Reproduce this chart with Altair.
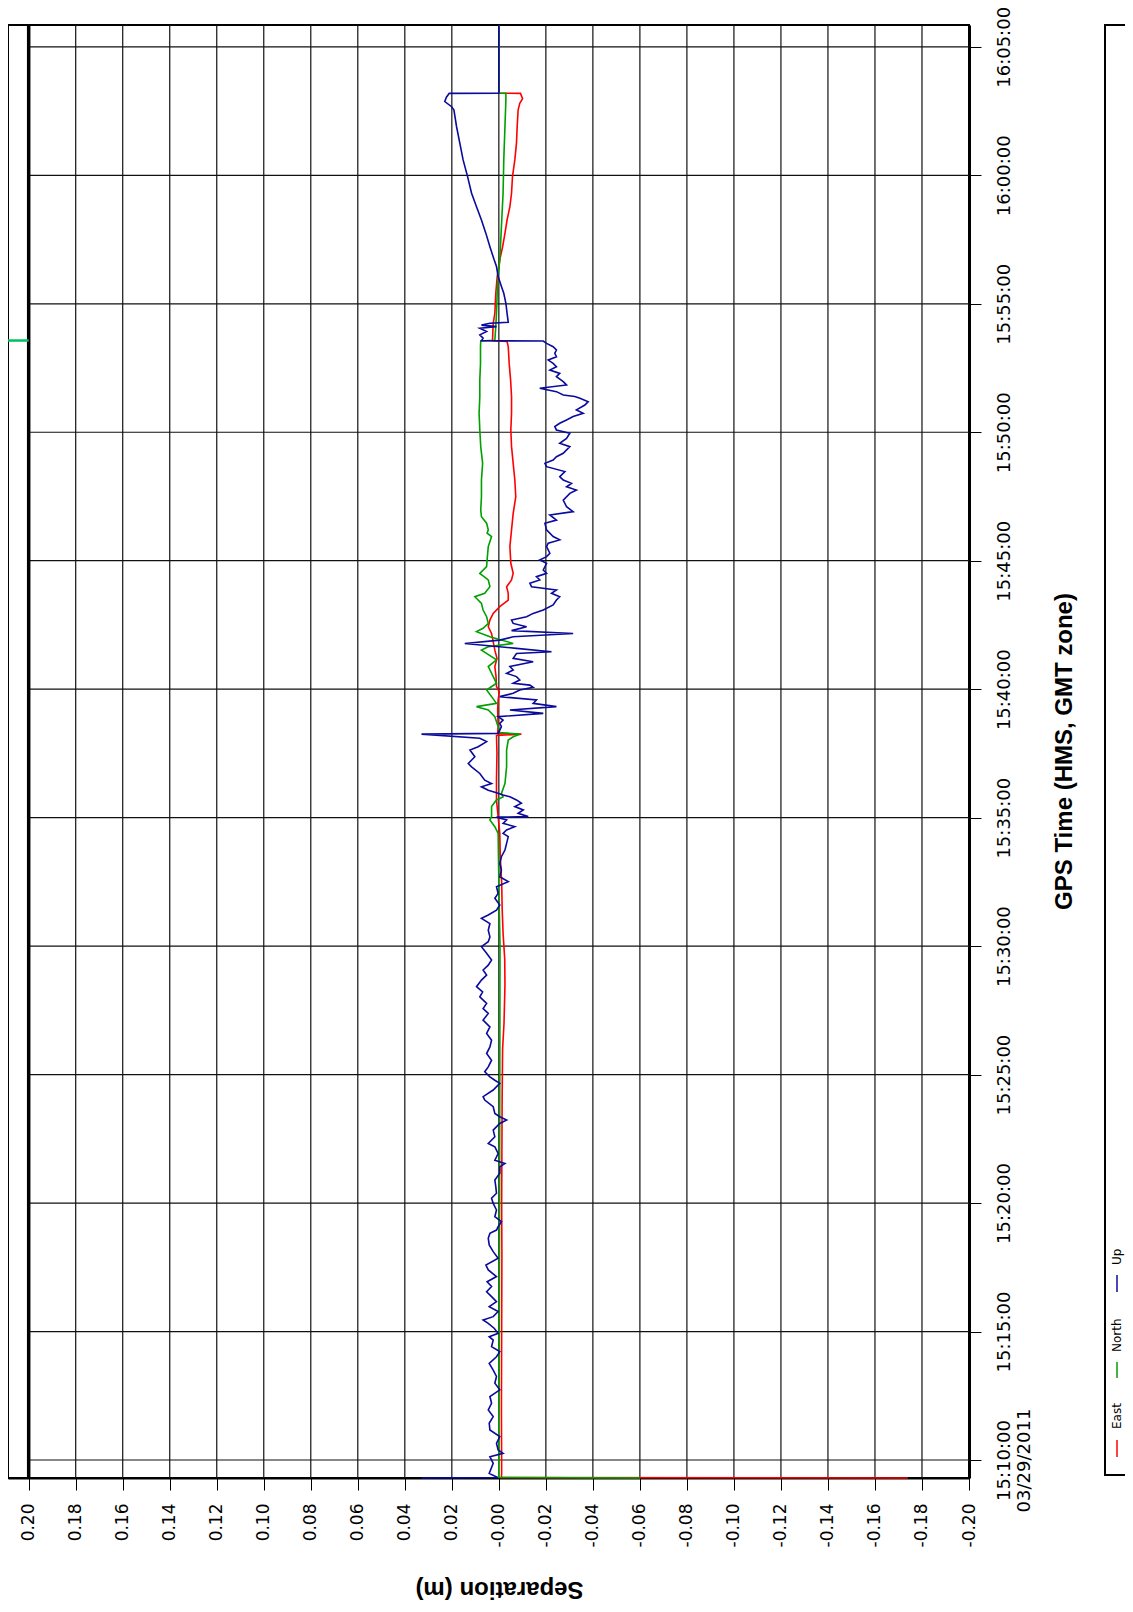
import altair as alt
import pandas as pd

# ---------------- axis ticks / labels ----------------
sep_ticks = [0.20, 0.18, 0.16, 0.14, 0.12, 0.10, 0.08, 0.06, 0.04, 0.02, 0.00,
             -0.02, -0.04, -0.06, -0.08, -0.10, -0.12, -0.14, -0.16, -0.18, -0.20]
sep_labels = ["0.20", "0.18", "0.16", "0.14", "0.12", "0.10", "0.08", "0.06", "0.04", "0.02", "-0.00",
              "-0.02", "-0.04", "-0.06", "-0.08", "-0.10", "-0.12", "-0.14", "-0.16", "-0.18", "-0.20"]
sep_domain = [-0.20, 0.2088]

# time as minutes after 15:00
time_ticks = [10, 15, 20, 25, 30, 35, 40, 45, 50, 55, 60, 65]
time_labels = ["15:10:00", "15:15:00", "15:20:00", "15:25:00", "15:30:00", "15:35:00",
               "15:40:00", "15:45:00", "15:50:00", "15:55:00", "16:00:00", "16:05:00"]
date_label = "03/29/2011"
time_domain = [9.30, 65.85]

series_names = ["East", "North", "Up"]
series_colors = ["#ff0000", "#00a000", "#0a0a9c"]

# ---------------- series (minutes after 15:00, metres) ----------------
east_t = [9.30, 9.32, 9.5, 12.0, 15.0, 18.0, 20.0, 22.0, 24.0, 26.0, 27.0, 28.5, 29.5, 30.5, 31.5, 32.5,
          33.5, 34.39, 35.04, 35.69, 36.5, 37.5, 38.20, 38.25, 38.28, 38.54, 39.2, 39.58, 39.9, 40.10,
          40.5, 40.88, 41.2, 41.52, 42.17, 42.43, 42.69, 42.95, 43.21, 43.47, 43.73, 43.99, 44.25,
          44.51, 44.90, 45.55, 46.20, 46.84, 47.49, 48.14, 48.79, 49.44, 50.09, 50.74, 51.39, 52.03,
          52.68, 53.33, 53.53, 53.56, 54.24, 54.63, 55.41, 56.06, 56.71, 57.22, 57.74, 58.26, 58.78,
          59.30, 59.95, 60.60, 61.25, 61.90, 62.54, 62.80, 62.98, 63.19, 63.20, 65.85]
east_v = [-0.174, -0.0011, -0.0012, -0.0011, -0.0012, -0.0013, -0.0012, -0.0013, -0.0014, -0.0016,
          -0.0022, -0.0026, -0.0025, -0.0018, -0.0014, -0.0012, -0.0006, -0.0004, 0.0003, 0.0010,
          0.0010, 0.0008, 0.0010, -0.0096, 0.0005, 0.0003, 0.0005, 0.0003, -0.0002, 0.0010, 0.0012,
          0.0017, 0.0008, 0.0017, 0.0031, 0.0045, 0.0038, 0.0024, -0.0004, -0.0040, -0.0040, -0.0033,
          -0.0054, -0.0061, -0.0051, -0.0047, -0.0054, -0.0061, -0.0072, -0.0068, -0.0061, -0.0054,
          -0.0051, -0.0054, -0.0054, -0.0050, -0.0044, -0.0040, -0.0035, 0.0027, 0.0024, 0.0017,
          0.0013, 0.0007, -0.0004, -0.0016, -0.0026, -0.0035, -0.0047, -0.0054, -0.0058, -0.0068,
          -0.0075, -0.0078, -0.0082, -0.0089, -0.0101, -0.0092, 0.0, 0.0]

north_t = [9.30, 9.32, 9.5, 15.0, 20.0, 25.0, 30.0, 31.79, 34.39, 34.65, 34.91, 35.04, 35.43, 35.69,
           35.81, 35.94, 36.33, 36.98, 37.63, 38.02, 38.15, 38.25, 38.31, 38.54, 38.93, 39.19, 39.32,
           39.45, 39.71, 39.97, 40.23, 40.49, 40.88, 41.14, 41.52, 41.65, 41.78, 42.04, 42.24, 42.37,
           42.56, 42.82, 43.08, 43.34, 43.60, 43.73, 43.99, 44.25, 44.51, 44.77, 45.03, 45.55, 45.94,
           46.07, 46.20, 46.46, 46.71, 46.97, 47.49, 48.14, 48.79, 49.44, 50.09, 50.74, 51.39, 52.03,
           52.68, 53.33, 53.55, 53.58, 54.11, 54.63, 55.41, 56.06, 56.71, 58.00, 59.30, 60.60, 61.90,
           62.93, 63.19, 63.20, 65.85]
north_v = [-0.060, 0.0, 0.0, -0.0002, -0.0003, -0.0004, -0.0005, -0.0001, 0.0003, 0.0017, 0.0038,
           0.0031, 0.0031, 0.0010, -0.0018, -0.0011, -0.0026, -0.0033, -0.0033, -0.0040, -0.0061,
           -0.0089, -0.0004, 0.0003, 0.0017, 0.0045, 0.0095, 0.0010, 0.0031, 0.0052, 0.0010, 0.0024,
           0.0045, 0.0010, 0.0074, 0.0045, -0.0061, 0.0038, 0.0095, 0.0067, 0.0045, 0.0052, 0.0067,
           0.0074, 0.0102, 0.0060, 0.0038, 0.0045, 0.0081, 0.0052, 0.0050, 0.0045, 0.0031, 0.0050,
           0.0045, 0.0052, 0.0074, 0.0077, 0.0074, 0.0074, 0.0069, 0.0077, 0.0081, 0.0084, 0.0081,
           0.0081, 0.0078, 0.0078, 0.0077, 0.0017, 0.0013, 0.0010, 0.0007, 0.0003, -0.0004, -0.0011,
           -0.0018, -0.0021, -0.0026, -0.0030, -0.0030, 0.0, 0.0]

up_t = [9.30, 9.32, 9.48, 9.87, 10.13, 10.26, 10.39, 10.65, 10.91, 11.17, 11.43, 11.69, 11.95, 12.21,
        12.47, 12.73, 12.99, 13.25, 13.50, 13.76, 14.02, 14.22, 14.41, 14.67, 14.80, 14.93, 15.13,
        15.32, 15.45, 15.58, 15.78, 15.97, 16.16, 16.36, 16.55, 16.75, 16.94, 17.14, 17.40, 17.59,
        17.85, 18.11, 18.37, 18.63, 18.82, 18.95, 19.08, 19.28, 19.47, 19.73, 19.99, 20.19, 20.38,
        20.64, 20.90, 21.16, 21.41, 21.54, 21.67, 21.93, 22.19, 22.32, 22.58, 22.84, 23.10, 23.23,
        23.36, 23.49, 23.75, 24.01, 24.14, 24.40, 24.66, 24.78, 24.91, 25.11, 25.30, 25.56, 25.82,
        26.08, 26.34, 26.60, 26.86, 27.12, 27.38, 27.57, 27.77, 28.03, 28.22, 28.42, 28.68, 28.87,
        29.07, 29.26, 29.46, 29.72, 29.98, 30.17, 30.36, 30.62, 30.88, 31.08, 31.21, 31.40, 31.60,
        31.86, 32.05, 32.31, 32.51, 32.70, 32.96, 33.22, 33.48, 33.74, 34.00, 34.26, 34.39, 34.52,
        34.65, 34.78, 34.91, 35.02, 35.04, 35.17, 35.30, 35.43, 35.56, 35.69, 35.81, 35.88, 35.97,
        36.07, 36.20, 36.33, 36.46, 36.72, 36.98, 37.11, 37.37, 37.63, 37.76, 37.96, 38.09, 38.25,
        38.28, 38.54, 38.67, 38.80, 38.93, 39.06, 39.19, 39.32, 39.45, 39.58, 39.71, 39.84, 39.97,
        40.07, 40.16, 40.23, 40.36, 40.49, 40.62, 40.75, 40.88, 41.07, 41.20, 41.39, 41.46, 41.59,
        41.78, 41.91, 42.04, 42.17, 42.28, 42.43, 42.56, 42.69, 42.82, 42.95, 43.08, 43.28, 43.47,
        43.60, 43.73, 43.86, 43.99, 44.12, 44.25, 44.38, 44.51, 44.64, 44.90, 45.03, 45.16, 45.29,
        45.55, 45.68, 45.81, 45.94, 46.20, 46.46, 46.58, 46.78, 46.91, 47.10, 47.36, 47.62, 47.75,
        47.88, 48.01, 48.14, 48.27, 48.47, 48.66, 48.79, 48.92, 49.05, 49.18, 49.44, 49.57, 49.76,
        49.96, 50.09, 50.22, 50.35, 50.48, 50.61, 50.74, 50.87, 51.06, 51.19, 51.32, 51.39, 51.45,
        51.58, 51.71, 51.84, 51.97, 52.16, 52.29, 52.42, 52.55, 52.68, 52.81, 52.94, 53.07, 53.20,
        53.33, 53.46, 53.55, 53.56, 53.66, 53.79, 53.92, 54.05, 54.11, 54.17, 54.24, 54.28, 54.63,
        55.02, 55.41, 55.67, 56.06, 56.45, 56.71, 57.22, 57.74, 58.26, 58.78, 59.30, 59.95, 60.60,
        61.25, 61.90, 62.54, 62.67, 62.87, 63.04, 63.19, 63.20, 65.85]
up_v = [0.0329, 0.0005, 0.0041, 0.0024, 0.0038, -0.0018, 0.0003, 0.0010, -0.0004, 0.0038, 0.0041,
        0.0024, 0.0045, 0.0031, 0.0038, -0.0004, 0.0017, 0.0010, 0.0024, 0.0041, 0.0010, -0.0004,
        0.0031, 0.0024, 0.0041, 0.0003, 0.0020, 0.0045, 0.0067, 0.0024, 0.0003, 0.0041, 0.0010,
        0.0031, 0.0052, 0.0031, 0.0050, 0.0010, 0.0045, 0.0055, 0.0003, 0.0024, 0.0041, 0.0045,
        0.0038, 0.0010, 0.0003, -0.0011, 0.0017, 0.0010, 0.0024, 0.0031, 0.0010, 0.0013, 0.0017,
        -0.0004, -0.0004, -0.0026, 0.0017, 0.0003, 0.0017, 0.0045, 0.0017, 0.0024, -0.0004, -0.0033,
        -0.0004, 0.0017, 0.0024, 0.0060, 0.0067, 0.0024, -0.0004, 0.0017, 0.0038, 0.0060, 0.0045,
        0.0031, 0.0052, 0.0038, 0.0031, 0.0052, 0.0038, 0.0067, 0.0045, 0.0067, 0.0052, 0.0081,
        0.0069, 0.0095, 0.0074, 0.0052, 0.0067, 0.0045, 0.0031, 0.0052, 0.0074, 0.0045, 0.0038,
        0.0045, 0.0038, 0.0074, 0.0045, 0.0010, -0.0004, 0.0017, 0.0003, 0.0010, -0.0040, -0.0004,
        -0.0011, -0.0004, -0.0011, -0.0026, -0.0033, -0.0040, -0.0018, -0.0033, -0.0068, -0.0018,
        -0.0033, 0.0010, -0.0125, -0.0082, -0.0104, -0.0068, -0.0096, -0.0075, -0.0047, -0.0018,
        0.0010, 0.0045, 0.0074, 0.0031, 0.0060, 0.0081, 0.0116, 0.0130, 0.0102, 0.0123, 0.0088,
        0.0052, 0.0081, 0.0329, 0.0003, -0.0011, -0.0004, -0.0018, 0.0003, -0.0189, -0.0047,
        -0.0245, -0.0146, -0.0160, -0.0004, -0.0061, -0.0089, -0.0146, -0.0132, -0.0061, -0.0089,
        -0.0075, -0.0033, -0.0061, -0.0047, -0.0146, -0.0061, -0.0075, -0.0224, -0.0075, 0.0145,
        -0.0004, -0.0061, -0.0316, -0.0054, -0.0118, -0.0061, -0.0054, -0.0118, -0.0146, -0.0189,
        -0.0231, -0.0245, -0.0259, -0.0224, -0.0245, -0.0139, -0.0132, -0.0174, -0.0160, -0.0203,
        -0.0189, -0.0203, -0.0174, -0.0203, -0.0217, -0.0203, -0.0210, -0.0259, -0.0231, -0.0203,
        -0.0196, -0.0245, -0.0217, -0.0316, -0.0288, -0.0274, -0.0302, -0.0330, -0.0288, -0.0309,
        -0.0274, -0.0259, -0.0281, -0.0203, -0.0196, -0.0231, -0.0245, -0.0274, -0.0302, -0.0259,
        -0.0288, -0.0302, -0.0245, -0.0238, -0.0259, -0.0288, -0.0316, -0.0359, -0.0330, -0.0366,
        -0.0380, -0.0345, -0.0323, -0.0274, -0.0245, -0.0174, -0.0288, -0.0274, -0.0245, -0.0259,
        -0.0217, -0.0245, -0.0231, -0.0210, -0.0245, -0.0238, -0.0245, -0.0231, -0.0203, -0.0189,
        0.0074, 0.0067, 0.0081, 0.0052, 0.0081, 0.0010, 0.0074, 0.0038, -0.0040, -0.0035, -0.0030,
        -0.0021, -0.0011, 0.0003, 0.0010, 0.0020, 0.0038, 0.0055, 0.0074, 0.0095, 0.0116, 0.0133,
        0.0152, 0.0166, 0.0180, 0.0191, 0.0201, 0.0230, 0.0223, 0.0211, 0.0, 0.0]

# short North excursion drawn in the margin strip
spike_t = [53.57]
spike_v = [0.2088]
spike_v2 = [0.20]

# ---------------- layout ----------------
W, H = 961, 1453


def sep_label_expr():
    s = ""
    for t, lab in zip(sep_ticks, sep_labels):
        s += f"abs(datum.value - ({t})) < 1e-6 ? '{lab}' : "
    return s + "''"


def time_label_expr():
    s = ""
    for i, (t, lab) in enumerate(zip(time_ticks, time_labels)):
        txt = f"['{lab}', '{date_label}']" if i == 0 else f"'{lab}'"
        s += f"datum.value == {t} ? {txt} : "
    return s + "''"


X_SCALE = alt.Scale(domain=sep_domain, reverse=True, nice=False, zero=False)
Y_SCALE = alt.Scale(domain=time_domain, nice=False, zero=False)

X_AXIS = alt.Axis(
    orient="bottom", values=sep_ticks, labelExpr=sep_label_expr(),
    labelAngle=270, labelAlign="right", labelBaseline="middle",
    labelFont="DejaVu Sans", labelFontSize=17, labelColor="black", labelPadding=13,
    labelFlush=False, labelOverlap=False, labelBound=False,
    ticks=True, tickSize=12, tickColor="black", tickWidth=1,
    domain=True, domainColor="black", domainWidth=2, grid=False,
    title="Separation (m)", titleAngle=180, titleFont="Liberation Sans", titleFontSize=24,
    titleFontWeight="bold", titleColor="black", titleX=491, titleY=110,
    titleAlign="center", titleBaseline="middle",
)
Y_AXIS = alt.Axis(
    orient="right", values=time_ticks, labelExpr=time_label_expr(),
    labelAngle=270, labelAlign="center", labelBaseline="top",
    labelFont="DejaVu Sans", labelFontSize=18, labelColor="black", labelPadding=14,
    labelLineHeight=20, labelFlush=False, labelOverlap=False, labelBound=False,
    ticks=True, tickSize=12, tickColor="black", tickWidth=1,
    domain=True, domainColor="black", domainWidth=3, grid=False,
    title="GPS Time (HMS, GMT zone)", titleAngle=270, titleFont="Liberation Sans",
    titleFontSize=24, titleFontWeight="bold", titleColor="black", titleX=95, titleY=726,
    titleAlign="center", titleBaseline="middle",
)


def X(field="v"):
    return alt.X(f"{field}:Q", scale=X_SCALE, axis=X_AXIS)


def Y(field="m"):
    return alt.Y(f"{field}:Q", scale=Y_SCALE, axis=Y_AXIS)


# vertical grid (interior separation ticks)
vgrid = alt.Chart(pd.DataFrame({"v": sep_ticks[1:-1]})).mark_rule(
    color="#111111", strokeWidth=1.2).encode(x=X(), y=alt.value(0), y2=alt.value(H))

# horizontal grid (time ticks), spanning the labelled separation range only
hgrid = alt.Chart(pd.DataFrame({"m": time_ticks, "v": [sep_ticks[0]] * len(time_ticks),
                                "v2": [sep_ticks[-1]] * len(time_ticks)})).mark_rule(
    color="#111111", strokeWidth=1.2).encode(y=Y(), x=X(), x2="v2:Q")

# thick line at the first separation tick
thick = alt.Chart(pd.DataFrame({"v": [sep_ticks[0]]})).mark_rule(
    color="black", strokeWidth=3.5).encode(x=X(), y=alt.value(0), y2=alt.value(H))

layers = [vgrid, hgrid, thick]
for name, tt, vv, col in zip(series_names, [east_t, north_t, up_t], [east_v, north_v, up_v], series_colors):
    df = pd.DataFrame({"m": tt, "v": vv, "i": list(range(len(tt)))})
    layers.append(alt.Chart(df).mark_line(color=col, strokeWidth=1.6).encode(
        x=X(), y=Y(), order="i:Q"))

spike = alt.Chart(pd.DataFrame({"m": spike_t, "v": spike_v, "v2": spike_v2})).mark_rule(
    color="#00c060", strokeWidth=2.5).encode(y=Y(), x=X(), x2="v2:Q")
layers.append(spike)

# legend box and entries (rotated, at the bottom of a tall box)
one = alt.Data(values=[{"a": 1}])
box = alt.Chart(one).mark_rect(fill="white", fillOpacity=0, stroke="black", strokeWidth=2).encode(
    x=alt.value(1097), x2=alt.value(1300), y=alt.value(0), y2=alt.value(1450))
layers.append(box)

swatch_y = [(1415, 1432), (1337, 1353), (1250, 1267)]
text_y = [1404, 1327, 1240]
for name, col, (y1, y2), ty in zip(series_names, series_colors, swatch_y, text_y):
    layers.append(alt.Chart(one).mark_rule(color=col, strokeWidth=1.5).encode(
        x=alt.value(1109), y=alt.value(y1), y2=alt.value(y2)))
    layers.append(alt.Chart(one).mark_text(
        angle=270, align="left", baseline="middle", font="DejaVu Sans", fontSize=12,
        color="black").encode(x=alt.value(1109), y=alt.value(ty), text=alt.value(name)))

chart = alt.layer(*layers).properties(
    width=W, height=H,
    autosize=alt.AutoSizeParams(type="none"),
    padding={"left": 0, "top": 17, "right": 156, "bottom": 126},
    background="white",
).configure_view(stroke="black", strokeWidth=2)

chart.save("out.html", embed_options={"renderer": "svg", "actions": False})
